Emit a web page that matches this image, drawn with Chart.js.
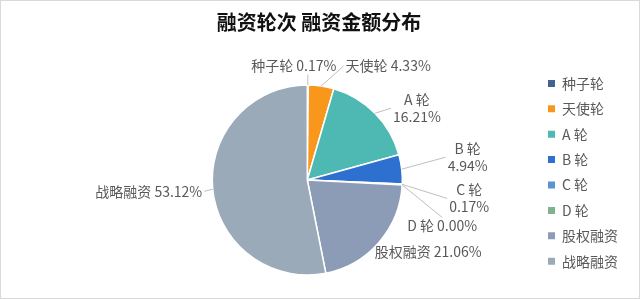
<!DOCTYPE html>
<html>
<head>
<meta charset="utf-8">
<script src="https://cdn.jsdelivr.net/npm/chart.js@4"></script>
<style>
  body { margin: 0; background: #fff; }
  #wrap { width: 640px; height: 299px; position: relative; }
</style>
</head>
<body>
<div id="wrap"><canvas id="canva"></canvas></div>
<script>
// datos
var titulo = "融资轮次 融资金额分布";
var rondas = ["种子轮", "天使轮", "A 轮", "B 轮", "C 轮", "D 轮", "股权融资", "战略融资"];
var porcentajes = [0.17, 4.33, 16.21, 4.94, 0.17, 0.00, 21.06, 53.12];
var colores = ["#44628E", "#F9961C", "#4DB9B2", "#2E70CF", "#5C93D6", "#7FB38E", "#8D9CB6", "#9AAAB8"];

// etiquetas: dos lineas o una, lado de la linea guia y desplazamiento desde el borde del arco
var dosLineas = [false, false, true, true, true, false, false, false];
var ladoGuia = ["bottom", "left", "left", "left", "left", "top", "none", "right"];
var desplaza = [[-14, -19], [67, -20], [42, -5], [66, -12], [67, 14], [40, 41], [49, 10], [-64, 2]];

var fuente = '"Noto Sans CJK SC", "Noto Sans", sans-serif';

// fondo blanco, marco gris y titulo centrado sobre toda la imagen
const fondo = {
    id: 'fondo',
    beforeDraw(chart) {
        const c = chart.ctx;
        c.save();
        c.fillStyle = '#fff';
        c.fillRect(0, 0, chart.width, chart.height);
        c.strokeStyle = '#D9D9D9';
        c.lineWidth = 1;
        c.strokeRect(0.5, 0.5, chart.width - 1, chart.height - 1);
        c.fillStyle = '#111';
        c.font = 'bold 20px ' + fuente;
        c.textAlign = 'center';
        c.textBaseline = 'middle';
        c.fillText(titulo, chart.width / 2 - 1, 22);
        c.restore();
    }
};

const etiquetas = {
    id: 'etiquetas',
    afterDatasetsDraw(chart) {
        const c = chart.ctx;
        const meta = chart.getDatasetMeta(0);
        c.save();
        c.font = '14px ' + fuente;
        c.textAlign = 'center';
        c.textBaseline = 'middle';
        meta.data.forEach(function (arc, i) {
            const p = arc.getProps(['x', 'y', 'startAngle', 'endAngle', 'outerRadius'], true);
            const mid = (p.startAngle + p.endAngle) / 2;
            const ex = p.x + Math.cos(mid) * p.outerRadius;
            const ey = p.y + Math.sin(mid) * p.outerRadius;
            const pct = porcentajes[i].toFixed(2) + '%';
            const lineas = dosLineas[i] ? [rondas[i], pct] : [rondas[i] + ' ' + pct];
            const cx = ex + desplaza[i][0];
            const cy = ey + desplaza[i][1];
            let w = 0;
            lineas.forEach(function (t) { w = Math.max(w, c.measureText(t).width); });
            const h = lineas.length * 17;
            let fx = null, fy = null;
            if (ladoGuia[i] == 'left') { fx = cx - w / 2 - 2; fy = cy; }
            else if (ladoGuia[i] == 'right') { fx = cx + w / 2 + 2; fy = cy; }
            else if (ladoGuia[i] == 'bottom') { fx = Math.min(Math.max(ex, cx - w / 2), cx + w / 2); fy = cy + h / 2; }
            else if (ladoGuia[i] == 'top') { fx = cx; fy = cy - h / 2; }
            if (fx !== null) {
                c.strokeStyle = '#BFBFBF';
                c.lineWidth = 1;
                c.beginPath();
                c.moveTo(ex, ey);
                c.lineTo(fx, fy);
                c.stroke();
            }
            c.fillStyle = '#595959';
            lineas.forEach(function (t, k) {
                c.fillText(t, cx, cy - h / 2 + 8.5 + k * 17);
            });
        });
        c.restore();
    }
};

const ctx = document.getElementById('canva');
const myChart = new Chart(ctx, {
    type: 'pie',
    data: {
        labels: rondas,
        datasets: [{
            data: porcentajes,
            backgroundColor: colores,
            borderColor: '#fff',
            borderWidth: 1.5,
            radius: 95
        }]
    },
    options: {
        responsive: true,
        maintainAspectRatio: false,
        animation: false,
        layout: {
            padding: { left: 78, right: 12, top: 65, bottom: 4 }
        },
        plugins: {
            title: { display: false },
            legend: {
                position: 'right',
                align: 'start',
                fullSize: false,
                labels: {
                    color: '#595959',
                    font: { family: fuente, size: 14 },
                    boxWidth: 7,
                    boxHeight: 7,
                    padding: 11.4,
                    generateLabels(chart) {
                        const items = Chart.overrides.pie.plugins.legend.labels.generateLabels(chart);
                        items.forEach(function (it) { it.lineWidth = 0; it.strokeStyle = it.fillStyle; });
                        return items;
                    }
                }
            },
            tooltip: { enabled: false }
        }
    },
    plugins: [fondo, etiquetas]
});
</script>
</body>
</html>
